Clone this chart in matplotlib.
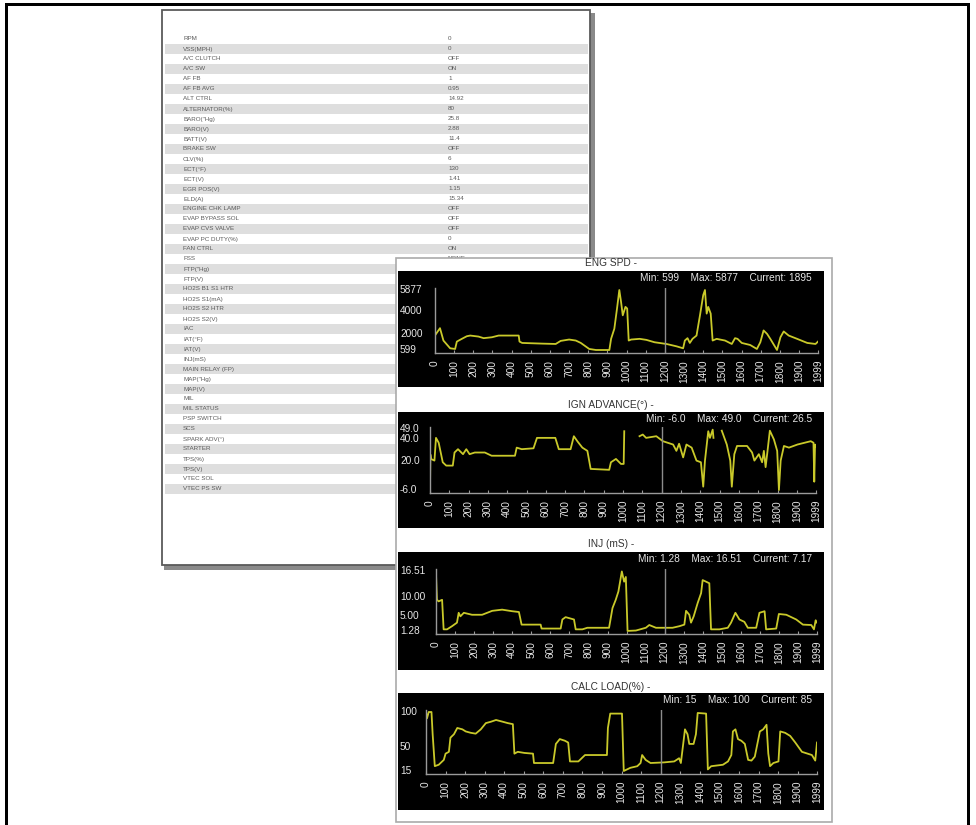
import numpy as np
import matplotlib
matplotlib.use('Agg')
import matplotlib.pyplot as plt
from matplotlib.patches import Rectangle

plt.rcParams['font.family'] = ['Liberation Sans', 'DejaVu Sans']

W, H = 976, 825

# data list on the left page
table_names = ['RPM', 'VSS(MPH)', 'A/C CLUTCH', 'A/C SW', 'AF FB', 'AF FB AVG', 'ALT CTRL',
               'ALTERNATOR(%)', 'BARO("Hg)', 'BARO(V)', 'BATT(V)', 'BRAKE SW', 'CLV(%)',
               'ECT(°F)', 'ECT(V)', 'EGR POS(V)', 'ELD(A)', 'ENGINE CHK LAMP', 'EVAP BYPASS SOL',
               'EVAP CVS VALVE', 'EVAP PC DUTY(%)', 'FAN CTRL', 'FSS', 'FTP("Hg)', 'FTP(V)',
               'HO2S B1 S1 HTR', 'HO2S S1(mA)', 'HO2S S2 HTR', 'HO2S S2(V)', 'IAC', 'IAT(°F)',
               'IAT(V)', 'INJ(mS)', 'MAIN RELAY (FP)', 'MAP("Hg)', 'MAP(V)', 'MIL', 'MIL STATUS',
               'PSP SWITCH', 'SCS', 'SPARK ADV(°)', 'STARTER', 'TPS(%)', 'TPS(V)', 'VTEC SOL',
               'VTEC PS SW']
table_values = ['0', '0', 'OFF', 'ON', '1', '0.95', '14.92', '80', '25.8', '2.88', '11.4', 'OFF',
                '6', '130', '1.41', '1.15', '15.34', 'OFF', 'OFF', 'OFF', '0', 'ON', 'NONE']

# ENG SPD
eng_x = [0, 26, 44, 79, 105, 114, 140, 166, 184, 227, 254, 297, 332, 437, 441, 455, 560, 630,
         656, 700, 735, 761, 805, 840, 910, 919, 936, 950, 962, 971, 980, 994, 1003, 1011, 1024,
         1068, 1103, 1146, 1208, 1260, 1295, 1304, 1318, 1330, 1344, 1365, 1383, 1400, 1409,
         1418, 1426, 1439, 1449, 1470, 1514, 1549, 1566, 1579, 1601, 1645, 1680, 1698, 1715,
         1733, 1750, 1785, 1803, 1820, 1846, 1890, 1943, 1986, 1999]
eng_y = [1880, 2520, 1430, 750, 690, 1340, 1580, 1810, 1870, 1780, 1640, 1720, 1870, 1870, 1340,
         1220, 1160, 1130, 1400, 1520, 1430, 1220, 690, 600, 600, 1580, 2470, 4250, 5877, 4840,
         3650, 4390, 4250, 1430, 1520, 1580, 1490, 1280, 1130, 925, 750, 1430, 1640, 1220, 1580,
         1870, 3650, 5430, 5877, 3800, 4390, 3800, 1430, 1580, 1430, 1130, 1640, 1580, 1220,
         1040, 690, 1280, 2320, 2020, 1580, 600, 1720, 2230, 1870, 1580, 1220, 1130, 1340]

# IGN ADVANCE (gaps are nan)
ign_x = [0, 2, 5, 23, 31, 45, 66, 84, 118, 127, 145, 171, 188, 205, 232, 284, 319, 440, 449,
         475, 536, 554, 649, 667, 728, 745, 763, 789, 815, 832, 928, 937, 963, 989, 1003, 1006,
         1040, 1085, 1102, 1119, 1172, 1206, 1259, 1276, 1290, 1311, 1328, 1355, 1380, 1403,
         1415, 1424, 1441, 1450, 1464, 1468, 1490, 1511, 1537, 1555, 1563, 1576, 1590, 1642,
         1668, 1680, 1703, 1720, 1729, 1738, 1746, 1760, 1781, 1798, 1807, 1816, 1833, 1859,
         1903, 1972, 1986, 1990, 1994, 1999]
ign_y = [-4.5, 26, 22, 20.5, 41, 36.6, 19, 16, 16, 27.8, 30.8, 26.3, 30.8, 26.3, 27.8, 27.8,
         24.9, 24.9, 32.2, 30.8, 31.6, 41, 41, 30.8, 30.8, 42.5, 38, 32.2, 29.3, 13, 12.2, 19, 22,
         17.5, 17.5, 47, np.nan, 42.5, 44, 41, 42.5, 38, 35, 29.3, 35.7, 23.4, 35, 32.2, 20.5, 19,
         -3, 20.5, 47, 41, 48.4, 41, np.nan, 47.5, 35, 20.5, -3, 26.3, 33.7, 33.7, 27.8, 20.5,
         26.3, 19, 29.3, 14.6, 26.3, 47.5, 39.6, 29.3, -6, 20.5, 33.7, 32.2, 35, 38, 36.6, 1.5,
         35, 33]

# INJ (mS)
inj_x = [0, 5, 14, 32, 40, 58, 84, 110, 119, 128, 146, 189, 242, 295, 347, 400, 435, 449, 479,
         549, 554, 654, 663, 680, 724, 733, 768, 794, 908, 926, 943, 957, 975, 987, 996, 1005,
         1049, 1101, 1119, 1154, 1241, 1277, 1303, 1312, 1329, 1338, 1352, 1373, 1391, 1399,
         1417, 1434, 1443, 1487, 1531, 1548, 1571, 1592, 1618, 1636, 1680, 1697, 1724, 1732,
         1785, 1799, 1838, 1890, 1925, 1969, 1983, 1992, 1999]
inj_y = [15.8, 9.2, 8.8, 9.2, 1.7, 1.7, 2.5, 3.4, 5.9, 5.0, 5.9, 5.4, 5.4, 6.4, 6.7, 6.3, 6.1,
         2.9, 2.9, 2.9, 1.9, 1.9, 4.2, 4.8, 4.2, 1.7, 1.7, 2.1, 2.1, 7.1, 9.2, 11.3, 16.4, 13.8,
         15.0, 1.3, 1.4, 2.1, 2.8, 2.1, 2.1, 2.5, 2.9, 6.4, 5.4, 3.4, 5.0, 8.4, 10.9, 14.2, 13.8,
         13.4, 1.7, 1.7, 2.1, 3.4, 5.9, 4.2, 3.6, 2.1, 2.1, 5.9, 6.3, 1.7, 1.9, 5.6, 5.4, 4.2,
         2.9, 2.8, 1.7, 4.0, 3.4]

# CALC LOAD(%)
load_x = [0, 5, 14, 28, 34, 45, 65, 91, 100, 117, 125, 143, 160, 186, 203, 229, 254, 280, 306,
          332, 358, 392, 418, 444, 452, 469, 504, 547, 552, 650, 664, 684, 710, 727, 736, 779,
          813, 925, 930, 942, 1002, 1011, 1045, 1080, 1097, 1105, 1123, 1148, 1217, 1269, 1294,
          1303, 1317, 1324, 1337, 1346, 1368, 1380, 1389, 1432, 1441, 1458, 1518, 1544, 1561,
          1569, 1582, 1595, 1612, 1630, 1647, 1664, 1681, 1707, 1724, 1741, 1750, 1759, 1776,
          1802, 1811, 1836, 1862, 1888, 1922, 1973, 1990, 1999]
load_y = [100, 90.8, 100, 100, 68, 22, 24, 31, 40, 42.6, 63, 68, 77, 75, 72, 70, 68.8, 75, 84,
          86, 88.5, 86, 84, 82.5, 40, 42.6, 41, 40, 26.5, 26.5, 54, 61, 58.6, 56, 28.8, 28.8, 38,
          38, 77, 97.7, 97.7, 15, 19.6, 21.9, 26.5, 38, 31, 26.5, 27.4, 28.8, 33.4, 26.5, 58.6,
          75, 68, 54, 54, 68, 98.6, 97.7, 17.3, 21.9, 24, 28.8, 38, 72, 75, 61, 58.6, 54, 31, 30,
          35.7, 72, 75, 81.6, 40, 22, 26.5, 28.8, 72, 70, 65.5, 56, 42.6, 38, 30, 56]

titles = ['ENG SPD -', 'IGN ADVANCE(°) -', 'INJ (mS) -', 'CALC LOAD(%) -']
stat_min = ['599', '-6.0', '1.28', '15']
stat_max = ['5877', '49.0', '16.51', '100']
stat_cur = ['1895', '26.5', '7.17', '85']
eng_yticks = [599, 2000, 4000, 5877]
ign_yticks = [-6.0, 20.0, 40.0, 49.0]
inj_yticks = [1.28, 5.00, 10.00, 16.51]
load_yticks = [15, 50, 100]
x_ticks = list(range(0, 2000, 100)) + [1999]
cursor_x = 1200

series = [(eng_x, eng_y, eng_yticks, '{:.0f}'),
          (ign_x, ign_y, ign_yticks, '{:.1f}'),
          (inj_x, inj_y, inj_yticks, '{:.2f}'),
          (load_x, load_y, load_yticks, '{:.0f}')]

# pixel layout: title y, black box top/bottom, spine left/top/bottom/right
layout = [(263, 271, 387, 435, 288, 353, 818),
          (405, 412, 528, 430, 427, 493, 816),
          (544, 552, 670, 436, 569, 634, 817),
          (687, 693, 810, 426, 710, 774, 817)]


def frac(x0, y0, x1, y1):
    return [x0 / W, 1 - y1 / H, (x1 - x0) / W, (y1 - y0) / H]


fig = plt.figure(figsize=(W / 100, H / 100), dpi=100)
bg = fig.add_axes([0, 0, 1, 1])
bg.set_xlim(0, W)
bg.set_ylim(H, 0)
bg.axis('off')

# outer frame
bg.add_patch(Rectangle((5, 3), 3, H, fc='black', ec='none'))
bg.add_patch(Rectangle((5, 3), 965, 3, fc='black', ec='none'))
bg.add_patch(Rectangle((967, 3), 3, H, fc='black', ec='none'))

# left page with shadow
bg.add_patch(Rectangle((164, 13), 431, 557, fc='#8a8a8a', ec='none', zorder=1))
bg.add_patch(Rectangle((162, 10), 428, 555, fc='white', ec='#5a5a5a', lw=1.3, zorder=2))
for i, name in enumerate(table_names):
    y = 39 + 10.0 * i
    if i % 2 == 1:
        bg.add_patch(Rectangle((165, y - 5), 423, 10, fc='#dedede', ec='none', zorder=2))
    bg.text(183, y, name, fontsize=4.5, color='#5a5a5a', va='center', zorder=3)
for i, val in enumerate(table_values):
    bg.text(448, 39 + 10.0 * i, val, fontsize=4.5, color='#5a5a5a', va='center', zorder=3)

# right panel with charts
bg.add_patch(Rectangle((396, 258), 436, 564, fc='white', ec='#aaaaaa', lw=1.2, zorder=5))
for k, (ty, btop, bbot, sl, st, sb, sr) in enumerate(layout):
    bg.add_patch(Rectangle((398, btop), 426, bbot - btop, fc='black', ec='none', zorder=6))
    bg.text(611, ty, titles[k], fontsize=7.3, color='#333333', ha='center', va='center', zorder=7)
    stats = 'Min: %s    Max: %s    Current: %s' % (stat_min[k], stat_max[k], stat_cur[k])
    bg.text(812, btop + 7, stats, fontsize=7.3, color='#e6e6e6', ha='right', va='center', zorder=7)

for k, (ty, btop, bbot, sl, st, sb, sr) in enumerate(layout):
    xs, ys, yt, fmt = series[k]
    ax = fig.add_axes(frac(sl, st, sr, sb))
    ax.set_facecolor('none')
    ax.plot(xs, ys, color='#c9c92a', lw=1.3)
    ax.axvline(cursor_x, color='#8c8c8c', lw=1.0)
    lo, hi = min(yt), max(yt)
    per_px = (hi - lo) / (sb - st - 5)
    ax.set_ylim(lo - 3 * per_px, hi + 2 * per_px)
    ax.set_xlim(0, 1999)
    for s in ['top', 'right']:
        ax.spines[s].set_visible(False)
    for s in ['left', 'bottom']:
        ax.spines[s].set_color('#9a9a9a')
        ax.spines[s].set_linewidth(1.0)
    ax.set_xticks(x_ticks)
    ax.set_xticklabels([str(v) for v in x_ticks], rotation=90, fontsize=7.3, color='#e6e6e6')
    ax.tick_params(axis='x', direction='in', length=2.5, color='#9a9a9a', pad=5)
    ax.set_yticks(yt)
    ax.set_yticklabels([fmt.format(v) for v in yt], fontsize=7.3, color='#e6e6e6')
    ax.tick_params(axis='y', length=0, pad=(sl - 400) * 0.72)
    for lab in ax.get_yticklabels():
        lab.set_horizontalalignment('left')
        lab.set_verticalalignment('center')

fig.savefig('out.png', dpi=100)
